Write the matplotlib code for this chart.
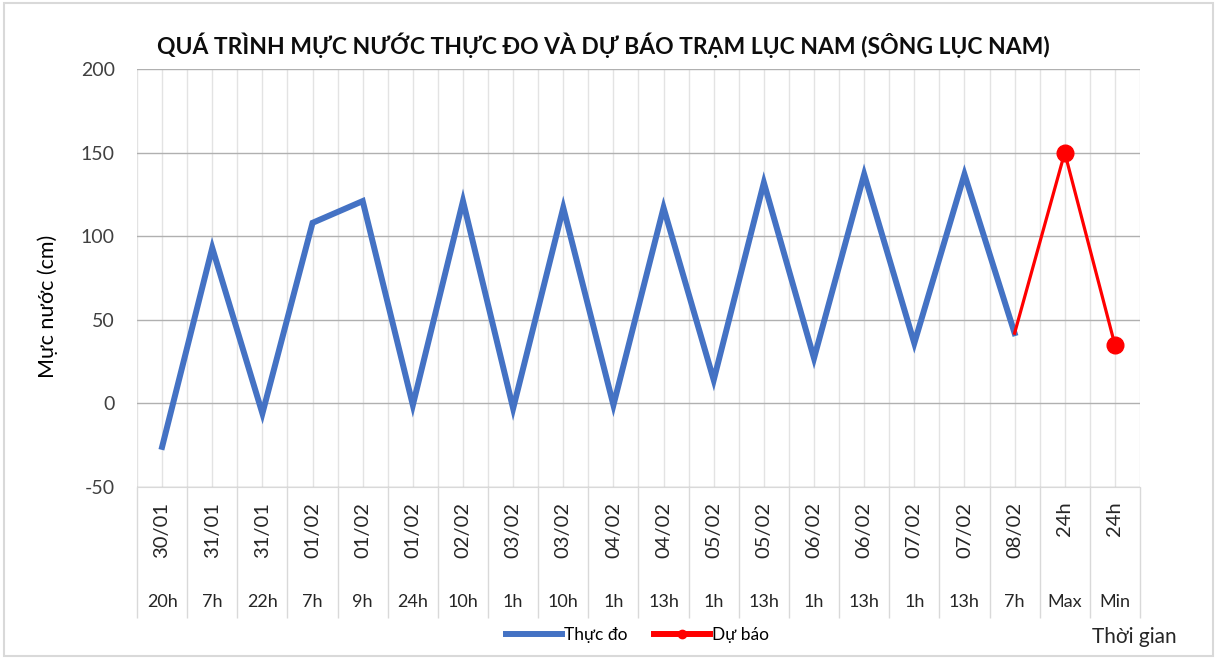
"""
Water level chart - Luc Nam station (Luc Nam river): observed vs forecast.
"""

import matplotlib
matplotlib.use("Agg")
import matplotlib.pyplot as plt
import matplotlib.transforms as mtransforms
from matplotlib.lines import Line2D

plt.rcParams['font.family'] = ['Lato', 'DejaVu Sans']
plt.rcParams['axes.unicode_minus'] = False

# Category labels (two-level x axis)
dates = ['30/01', '31/01', '31/01', '01/02', '01/02', '01/02', '02/02', '03/02',
         '03/02', '04/02', '04/02', '05/02', '05/02', '06/02', '06/02', '07/02',
         '07/02', '08/02', '24h', '24h']
hours = ['20h', '7h', '22h', '7h', '9h', '24h', '10h', '1h', '10h', '1h',
         '13h', '1h', '13h', '1h', '13h', '1h', '13h', '7h', 'Max', 'Min']

# Observed water level (cm)
observed = [-26, 93, -6, 108, 121, -1, 121, -3, 117, -1,
            117, 14, 132, 27, 137, 36, 137, 42]
# Forecast (Max, Min) in cm, joined to the last observed point
forecast = [150, 35]

title = 'QUÁ TRÌNH MỰC NƯỚC THỰC ĐO VÀ DỰ BÁO TRẠM LỤC NAM (SÔNG LỤC NAM)'


def main():
    fig = plt.figure(figsize=(12.17, 6.59), dpi=100)
    ax = fig.add_axes([0.1126, 0.261, 0.8241, 0.6343])

    n = len(hours)
    x_obs = list(range(len(observed)))
    x_fc = list(range(len(observed) - 1, n))
    y_fc = [observed[-1]] + forecast

    ax.plot(x_obs, observed, color='#4472c4', linewidth=4.3,
            solid_joinstyle='miter', zorder=3)
    ax.plot(x_fc, y_fc, color='#ff0000', linewidth=2.3, marker='o',
            markersize=12, markevery=[1, 2], zorder=4)

    ax.set_xlim(-0.5, n - 0.5)
    ax.set_ylim(-50, 200)
    ax.set_yticks(range(-50, 201, 50))
    ax.tick_params(axis='y', length=0, pad=16, labelsize=14, labelcolor='#404040')

    # gridlines: horizontal darker, vertical light (centers + boundaries)
    ax.set_xticks(range(n))
    ax.set_xticks([i - 0.5 for i in range(n + 1)], minor=True)
    ax.grid(axis='y', color='#b0b0b0', linewidth=1.0)
    ax.grid(axis='x', which='both', color='#e3e3e3', linewidth=1.0)
    ax.set_axisbelow(True)

    # category separators below the axis as long minor ticks
    ax.tick_params(axis='x', which='major', length=0, labelbottom=False)
    ax.tick_params(axis='x', which='minor', length=94, width=1.0, color='#d9d9d9')

    for side in ['top', 'right', 'left']:
        ax.spines[side].set_visible(False)
    ax.spines['bottom'].set_color('#d9d9d9')
    ax.spines['bottom'].set_position(('data', -50))

    trans = mtransforms.blended_transform_factory(ax.transData, ax.transAxes)
    for i in range(n):
        ax.text(i, -0.035, dates[i], transform=trans, rotation=90,
                ha='center', va='top', fontsize=14.5, color='#262626')
        ax.text(i, -0.255, hours[i], transform=trans,
                ha='center', va='top', fontsize=13, color='#262626')

    ax.set_ylabel('Mực nước (cm)', fontsize=15.5, labelpad=16)
    ax.yaxis.set_label_coords(-0.079, 0.433)

    fig.text(0.496, 0.932, title, ha='center', va='center', fontsize=16.5,
             fontweight='bold', color='#0d0d0d')
    fig.text(0.932, 0.033, 'Thời gian', ha='center', va='center',
             fontsize=15, color='#262626')

    handles = [Line2D([], [], color='#4472c4', linewidth=4.3),
               Line2D([], [], color='#ff0000', linewidth=4.3, marker='o',
                      markersize=6)]
    fig.legend(handles, ['Thực đo', 'Dự báo'], loc='center',
               bbox_to_anchor=(0.524, 0.036), ncol=2, frameon=False,
               fontsize=12.5, handlelength=3.2, columnspacing=1.5,
               handletextpad=0.15)

    # light chart border like the spreadsheet frame
    fig.patches.append(plt.Rectangle((0.003, 0.005), 0.994, 0.99,
                                     transform=fig.transFigure, fill=False,
                                     edgecolor='#d9d9d9', linewidth=1.5))

    plt.savefig('out.png', dpi=100)
    plt.close()


if __name__ == "__main__":
    main()
